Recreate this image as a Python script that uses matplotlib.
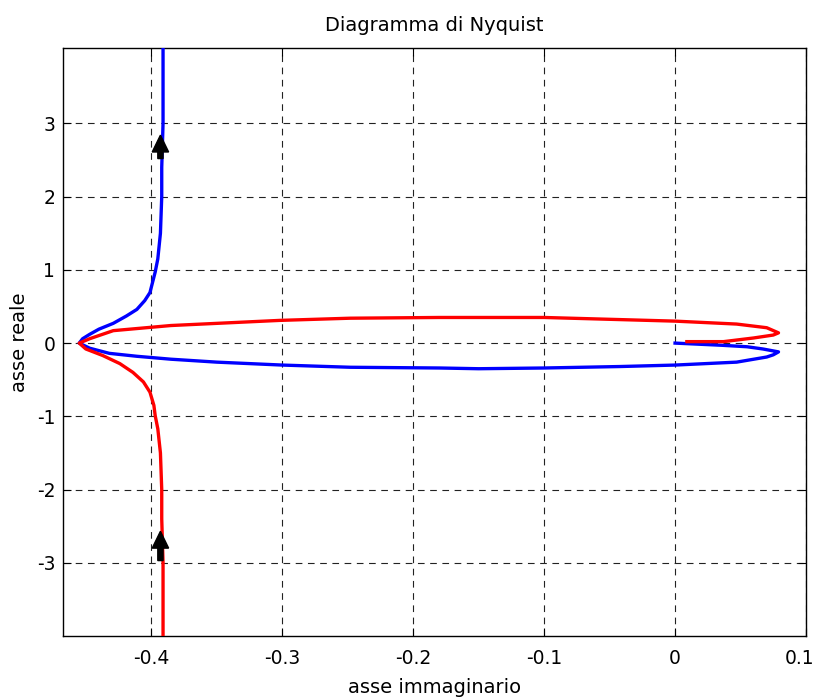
import matplotlib
matplotlib.use("Agg")
import matplotlib.pyplot as plt
import matplotlib.transforms as mtransforms
from matplotlib.patches import FancyArrow

plt.rcParams['font.family'] = ['DejaVu Sans']

# Blue branch (starts at origin, loops right, back left, then up)
blue_x = [0.0, 0.036, 0.055, 0.067, 0.079, 0.075, 0.070, 0.047, 0.0, -0.042,
          -0.1, -0.15, -0.18, -0.248, -0.30, -0.35, -0.385, -0.411, -0.432,
          -0.447, -0.455, -0.4524, -0.447, -0.440, -0.429, -0.419, -0.411,
          -0.405, -0.401, -0.399, -0.397, -0.395, -0.393, -0.392, -0.392,
          -0.391, -0.391]
blue_y = [0.0, -0.03, -0.05, -0.08, -0.12, -0.16, -0.19, -0.26, -0.30, -0.32,
          -0.34, -0.35, -0.34, -0.33, -0.30, -0.26, -0.22, -0.18, -0.14,
          -0.07, 0.0, 0.06, 0.12, 0.19, 0.27, 0.37, 0.46,
          0.58, 0.69, 0.83, 0.97, 1.15, 1.5, 2.0, 2.4,
          3.0, 4.5]

# Red branch (comes up from the bottom, around the nose, right, then back)
red_x = [-0.391, -0.391, -0.392, -0.392, -0.393, -0.395, -0.397, -0.398,
         -0.401, -0.406, -0.414, -0.424, -0.437, -0.450, -0.455, -0.447,
         -0.429, -0.385, -0.302, -0.248, -0.18, -0.1, 0.0, 0.047, 0.070,
         0.079, 0.075, 0.060, 0.037, 0.009]
red_y = [-4.5, -3.0, -2.4, -2.0, -1.5, -1.17, -0.99, -0.85,
         -0.67, -0.53, -0.40, -0.28, -0.17, -0.08, 0.0, 0.06,
         0.17, 0.24, 0.31, 0.34, 0.35, 0.35, 0.30, 0.26, 0.21,
         0.14, 0.11, 0.07, 0.02, 0.02]

# Direction arrows: x, tail y, tip y
arrow_x = [-0.393, -0.393]
arrow_tail = [2.52, -2.97]
arrow_tip = [2.84, -2.57]

xticks = [-0.4, -0.3, -0.2, -0.1, 0, 0.1]
xtick_labels = ['-0.4', '-0.3', '-0.2', '-0.1', '0', '0.1']
yticks = [-3, -2, -1, 0, 1, 2, 3]
ytick_labels = ['-3', '-2', '-1', '0', '1', '2', '3']

fig = plt.figure(figsize=(8.17, 6.97), dpi=100)
ax = fig.add_axes([63/817, 1-636/697, (806-63)/817, (636-48)/697])

ax.plot(blue_x, blue_y, color='#0000ff', lw=2.4, zorder=3)
ax.plot(red_x, red_y, color='#ff0000', lw=2.4, zorder=3)

for x, t0, t1 in zip(arrow_x, arrow_tail, arrow_tip):
    ax.add_patch(FancyArrow(x, t0, 0, t1 - t0, width=0.0040, head_width=0.0125,
                            head_length=0.23, length_includes_head=True,
                            color='black', zorder=4))

ax.set_xlim(-0.4674, 0.1)
ax.set_ylim(-4.0, 4.03)
ax.set_xticks(xticks)
ax.set_xticklabels(xtick_labels)
ax.set_yticks(yticks)
ax.set_yticklabels(ytick_labels)
ax.tick_params(direction='in', top=True, right=True, length=6, width=0.8,
               labelsize=13.5)
ax.tick_params(axis='x', pad=9.5)
ax.tick_params(axis='y', pad=5.5)
ax.grid(True, color='#222222', linestyle=(0, (6, 5)), linewidth=0.8)
for s in ax.spines.values():
    s.set_linewidth(1.0)

# keep the last x tick label inside the figure
last = ax.get_xticklabels()[-1]
last.set_transform(last.get_transform() +
                   mtransforms.ScaledTranslation(-6/100, 0, fig.dpi_scale_trans))

ax.set_title('Diagramma di Nyquist', fontsize=14, pad=12)
ax.set_xlabel('asse immaginario', fontsize=14, labelpad=7)
ax.set_ylabel('asse reale', fontsize=14, labelpad=6)

fig.savefig('out.png', dpi=100)
